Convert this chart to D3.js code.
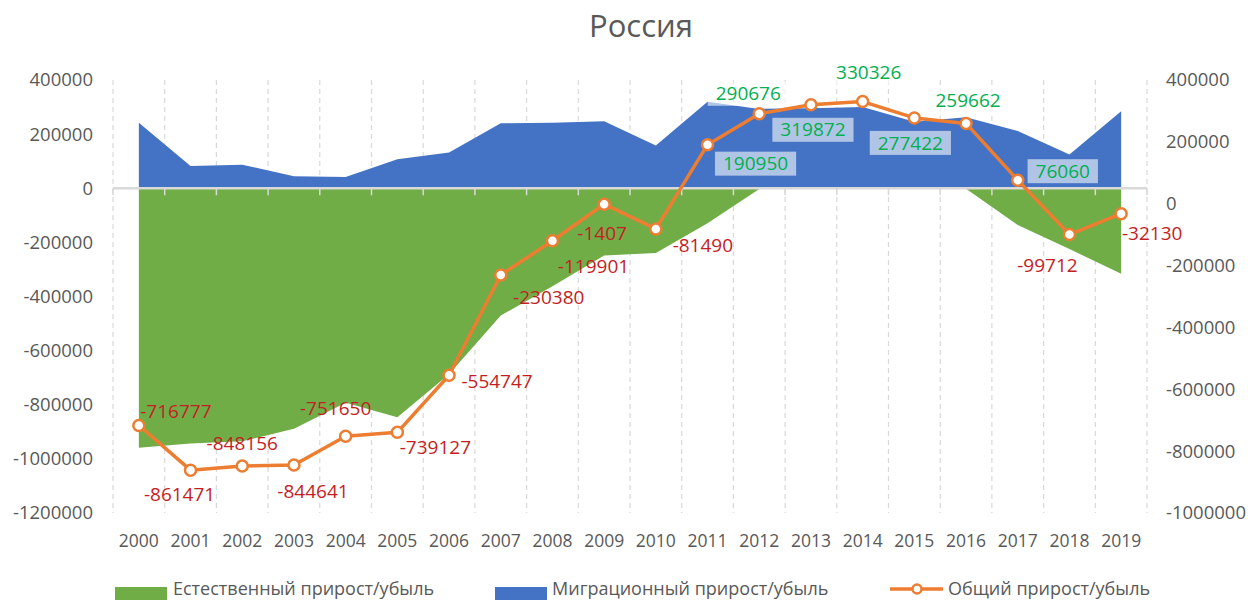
<!DOCTYPE html>
<html>
<head>
<meta charset="utf-8">
<script src="https://cdn.jsdelivr.net/npm/d3@7"></script>
<style>
  body { margin: 0; background: #fff; overflow: hidden; }
  svg text { font-family: 'Open Sans', sans-serif; }
</style>
</head>
<body>
<div id="chart"></div>
<script>
const years = ['2000', '2001', '2002', '2003', '2004', '2005', '2006', '2007', '2008', '2009',
  '2010', '2011', '2012', '2013', '2014', '2015', '2016', '2017', '2018', '2019'];

// natural increase / decrease (left axis)
const naturalGrowth = [-958532, -943353, -935278, -888529, -793047, -846563, -687066, -470322, -362007, -248859,
  -239568, -129083, -2573, 24013, 30314, 32038, -2303, -135818, -224566, -316204];

// migration increase (left axis)
const migrationGrowth = [241755, 81882, 87122, 43888, 41397, 107436, 132319, 239942, 242106, 247452,
  158078, 320033, 293249, 295859, 300012, 245384, 261965, 211878, 124854, 284074];

// total increase / decrease (right axis)
const totalGrowth = [-716777, -861471, -848156, -844641, -751650, -739127, -554747, -230380, -119901, -1407,
  -81490, 190950, 290676, 319872, 330326, 277422, 259662, 76060, -99712, -32130];

const leftTicks = [400000, 200000, 0, -200000, -400000, -600000, -800000, -1000000, -1200000];
const rightTicks = [400000, 200000, 0, -200000, -400000, -600000, -800000, -1000000];

const seriesNames = ['Естественный прирост/убыль', 'Миграционный прирост/убыль', 'Общий прирост/убыль'];

// where each total label sits relative to its point (dx, dy)
const labelOffsets = [[37, -14], [-11, 24], [0, -23], [19, 26], [-10, -28], [38, 15], [48, 6], [48, 22],
  [41, 26], [-2, 29], [47, 16], [48, 19], [-11, -20], [2, 25], [6, -29], [-4, 25], [2, -23], [45, -9],
  [-22, 31], [31, 20]];

const COLORS = {
  natural: '#70AD47',
  migration: '#4472C4',
  total: '#ED7D31',
  text: '#595959',
  grid: '#D9D9D9',
  negLabel: '#C41E24',
  posLabel: '#00B050'
};

const width = 1251;
const height = 600;
const plot = { left: 113, right: 1147, top: 80, bottom: 513 };

const svg = d3.select('#chart').append('svg')
  .attr('width', width)
  .attr('height', height);

// Scales
const xScale = d3.scaleBand()
  .domain(years)
  .range([plot.left, plot.right]);
const xc = d => xScale(d) + xScale.bandwidth() / 2;

const yLeft = d3.scaleLinear()
  .domain([-1200000, 400000])
  .range([plot.bottom, plot.top]);

const yRight = d3.scaleLinear()
  .domain([-1000000, 400000])
  .range([plot.bottom, plot.top]);

// Title
svg.append('text')
  .attr('x', 641)
  .attr('y', 37)
  .attr('text-anchor', 'middle')
  .attr('fill', COLORS.text)
  .style('font-size', '31px')
  .text('Россия');

// Vertical dashed gridlines at category boundaries
const bounds = years.map(d => xScale(d)).concat([plot.right]);
svg.append('g')
  .attr('class', 'grid')
  .selectAll('line')
  .data(bounds)
  .join('line')
  .attr('x1', d => d)
  .attr('x2', d => d)
  .attr('y1', plot.top)
  .attr('y2', plot.bottom)
  .attr('stroke', COLORS.grid)
  .attr('stroke-width', 1.2)
  .attr('stroke-dasharray', '5,4');

// Areas
const area = d3.area()
  .x((d, i) => xc(years[i]))
  .y0(yLeft(0))
  .y1(d => yLeft(d));

svg.append('path')
  .datum(naturalGrowth)
  .attr('d', area)
  .attr('fill', COLORS.natural);

svg.append('path')
  .datum(migrationGrowth)
  .attr('d', area)
  .attr('fill', COLORS.migration);

// Category axis line at zero with tick marks
const xAxis = svg.append('g')
  .attr('class', 'x-axis');

xAxis.append('line')
  .attr('x1', plot.left)
  .attr('x2', plot.right)
  .attr('y1', yLeft(0))
  .attr('y2', yLeft(0))
  .attr('stroke', COLORS.grid)
  .attr('stroke-width', 2.5);

xAxis.selectAll('line.tick')
  .data(bounds)
  .join('line')
  .attr('class', 'tick')
  .attr('x1', d => d)
  .attr('x2', d => d)
  .attr('y1', yLeft(0))
  .attr('y2', yLeft(0) + 7)
  .attr('stroke', COLORS.grid)
  .attr('stroke-width', 1.5);

// Year labels
svg.append('g')
  .selectAll('text')
  .data(years)
  .join('text')
  .attr('x', d => xc(d))
  .attr('y', 547)
  .attr('text-anchor', 'middle')
  .attr('fill', COLORS.text)
  .style('font-size', '17.5px')
  .text(d => d);

// Left axis labels
svg.append('g')
  .selectAll('text')
  .data(leftTicks)
  .join('text')
  .attr('x', 93)
  .attr('y', d => yLeft(d))
  .attr('dy', '0.35em')
  .attr('text-anchor', 'end')
  .attr('fill', COLORS.text)
  .style('font-size', '18.5px')
  .text(d => d);

// Right axis labels
svg.append('g')
  .selectAll('text')
  .data(rightTicks)
  .join('text')
  .attr('x', 1166)
  .attr('y', d => yRight(d))
  .attr('dy', '0.35em')
  .attr('text-anchor', 'start')
  .attr('fill', COLORS.text)
  .style('font-size', '18.5px')
  .text(d => d);

// Total line
const line = d3.line()
  .x((d, i) => xc(years[i]))
  .y(d => yRight(d));

svg.append('path')
  .datum(totalGrowth)
  .attr('d', line)
  .attr('fill', 'none')
  .attr('stroke', COLORS.total)
  .attr('stroke-width', 3.5)
  .attr('stroke-linejoin', 'round');

svg.append('g')
  .selectAll('circle')
  .data(totalGrowth)
  .join('circle')
  .attr('cx', (d, i) => xc(years[i]))
  .attr('cy', d => yRight(d))
  .attr('r', 5.5)
  .attr('fill', '#fff')
  .attr('stroke', COLORS.total)
  .attr('stroke-width', 2.5);

// Data labels for the total line
const labels = svg.append('g')
  .selectAll('g')
  .data(totalGrowth)
  .join('g')
  .attr('transform', (d, i) => `translate(${xc(years[i]) + labelOffsets[i][0]}, ${yRight(d) + labelOffsets[i][1]})`);

labels.append('rect')
  .attr('y', -12)
  .attr('height', 24)
  .attr('fill', '#fff')
  .attr('fill-opacity', d => d > 0 ? 0.58 : 0);

labels.append('text')
  .attr('text-anchor', 'middle')
  .attr('dy', '0.35em')
  .attr('fill', d => d > 0 ? COLORS.posLabel : COLORS.negLabel)
  .style('font-size', '19px')
  .text(d => d);

labels.each(function () {
  const g = d3.select(this);
  const box = g.select('text').node().getBBox();
  g.select('rect')
    .attr('x', box.x - 8)
    .attr('width', box.width + 16);
});

// Legend (sits at the very bottom edge, as in the original)
const legend = svg.append('g')
  .attr('class', 'legend');

legend.append('rect')
  .attr('x', 115).attr('y', 587).attr('width', 52).attr('height', 13)
  .attr('fill', COLORS.natural);
legend.append('text')
  .attr('x', 173).attr('y', 595)
  .attr('fill', COLORS.text)
  .style('font-size', '18px')
  .text(seriesNames[0]);

legend.append('rect')
  .attr('x', 495).attr('y', 587).attr('width', 52).attr('height', 13)
  .attr('fill', COLORS.migration);
legend.append('text')
  .attr('x', 552).attr('y', 595)
  .attr('fill', COLORS.text)
  .style('font-size', '18px')
  .text(seriesNames[1]);

legend.append('line')
  .attr('x1', 890).attr('x2', 943).attr('y1', 589).attr('y2', 589)
  .attr('stroke', COLORS.total)
  .attr('stroke-width', 3.5);
legend.append('circle')
  .attr('cx', 917).attr('cy', 589).attr('r', 4.5)
  .attr('fill', '#fff')
  .attr('stroke', COLORS.total)
  .attr('stroke-width', 2.5);
legend.append('text')
  .attr('x', 948).attr('y', 595)
  .attr('fill', COLORS.text)
  .style('font-size', '18px')
  .text(seriesNames[2]);
</script>
</body>
</html>
